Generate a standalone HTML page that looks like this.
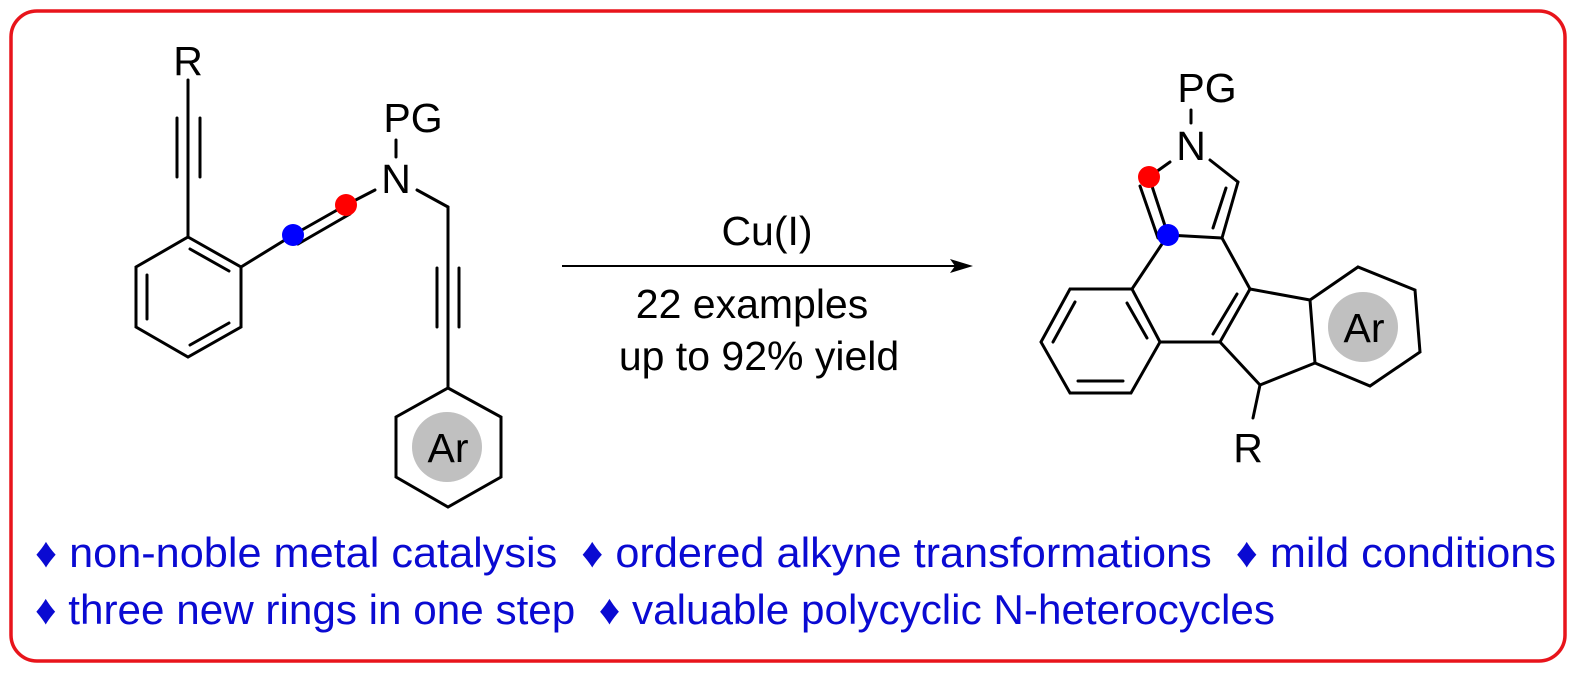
<!DOCTYPE html>
<html><head><meta charset="utf-8"><style>
html,body{margin:0;padding:0;background:#fff;}
svg{display:block;}
text{font-family:"Liberation Sans",sans-serif;white-space:pre;}
</style></head><body>
<svg width="1578" height="674" viewBox="0 0 1578 674" xmlns="http://www.w3.org/2000/svg">
<rect x="11" y="11" width="1554" height="650" rx="26" ry="26" fill="none" stroke="#e8141b" stroke-width="3.5"/>
<g stroke="#000" stroke-width="3" fill="none" stroke-linecap="round">
<line x1="188" y1="80" x2="188" y2="237"/>
<line x1="177" y1="118" x2="177" y2="177"/>
<line x1="200" y1="118" x2="200" y2="177"/>
<polygon points="188,237 241,267 241,327 188,357 136,327 136,267"/>
<line x1="147" y1="275" x2="147" y2="319"/>
<line x1="190" y1="249" x2="229" y2="271"/>
<line x1="190" y1="345" x2="229" y2="323"/>
<line x1="241" y1="267" x2="293" y2="235"/>
<line x1="293" y1="235" x2="346" y2="205"/>
<line x1="298" y1="244" x2="350" y2="214"/>
<line x1="346" y1="205" x2="375" y2="190"/>
<line x1="396" y1="140" x2="396" y2="157"/>
<line x1="417" y1="190" x2="448" y2="207"/>
<line x1="448" y1="207" x2="448" y2="388"/>
<line x1="437" y1="268" x2="437" y2="327"/>
<line x1="459" y1="268" x2="459" y2="327"/>
<polygon points="448,388 501,417 501,477 448,507 396,477 396,417"/>
<line x1="1191" y1="110" x2="1191" y2="123"/>
<line x1="1149" y1="177" x2="1170" y2="162"/>
<line x1="1210" y1="160" x2="1238" y2="182"/>
<line x1="1238" y1="182" x2="1222" y2="238"/>
<line x1="1226" y1="188" x2="1213" y2="228"/>
<line x1="1149" y1="177" x2="1168" y2="235"/>
<line x1="1140" y1="186" x2="1158" y2="238"/>
<line x1="1168" y1="235" x2="1222" y2="238"/>
<line x1="1168" y1="235" x2="1132" y2="289"/>
<line x1="1222" y1="238" x2="1250" y2="289"/>
<polygon points="1132,289 1070,289 1041,342 1070,393 1131,393 1160,342"/>
<line x1="1075" y1="302" x2="1053" y2="342"/>
<line x1="1078" y1="381" x2="1123" y2="381"/>
<line x1="1127" y1="303" x2="1147" y2="338"/>
<line x1="1160" y1="342" x2="1220" y2="342"/>
<line x1="1250" y1="289" x2="1220" y2="342"/>
<line x1="1237" y1="294" x2="1213" y2="334"/>
<line x1="1250" y1="289" x2="1310" y2="300"/>
<line x1="1220" y1="342" x2="1260" y2="385"/>
<line x1="1260" y1="385" x2="1315" y2="363"/>
<line x1="1260" y1="385" x2="1253" y2="418"/>
<polygon points="1310,300 1358,267 1415,290 1420,352 1370,386 1315,363"/>
</g>
<circle cx="447" cy="447" r="35" fill="#c0c0c0"/>
<circle cx="1363" cy="327" r="35" fill="#c0c0c0"/>
<circle cx="346" cy="205" r="11" fill="#ff0000"/>
<circle cx="293" cy="235" r="11" fill="#0000ff"/>
<circle cx="1149" cy="177" r="11" fill="#ff0000"/>
<circle cx="1168" cy="235" r="11" fill="#0000ff"/>
<g font-size="41" fill="#000" text-anchor="middle">
<text x="188" y="75">R</text>
<text x="413" y="132">PG</text>
<text x="396" y="193">N</text>
<text x="448" y="462">Ar</text>
<text x="1207" y="102">PG</text>
<text x="1191" y="160">N</text>
<text x="1364" y="342">Ar</text>
<text x="1248" y="462">R</text>
<text x="767" y="245">Cu(I)</text>
<text x="752" y="318">22 examples</text>
<text x="759" y="370">up to 92% yield</text>
</g>
<line x1="562" y1="266" x2="960" y2="266" stroke="#000" stroke-width="2"/>
<polygon points="973,266 950,259 955,266 950,273" fill="#000"/>
<g font-size="42" fill="#0a0ad2">
<text x="35" y="567" textLength="1521" lengthAdjust="spacingAndGlyphs">♦ non-noble metal catalysis  ♦ ordered alkyne transformations  ♦ mild conditions</text>
<text x="35" y="624" textLength="1240" lengthAdjust="spacingAndGlyphs">♦ three new rings in one step  ♦ valuable polycyclic N-heterocycles</text>
</g>
</svg>
</body></html>
